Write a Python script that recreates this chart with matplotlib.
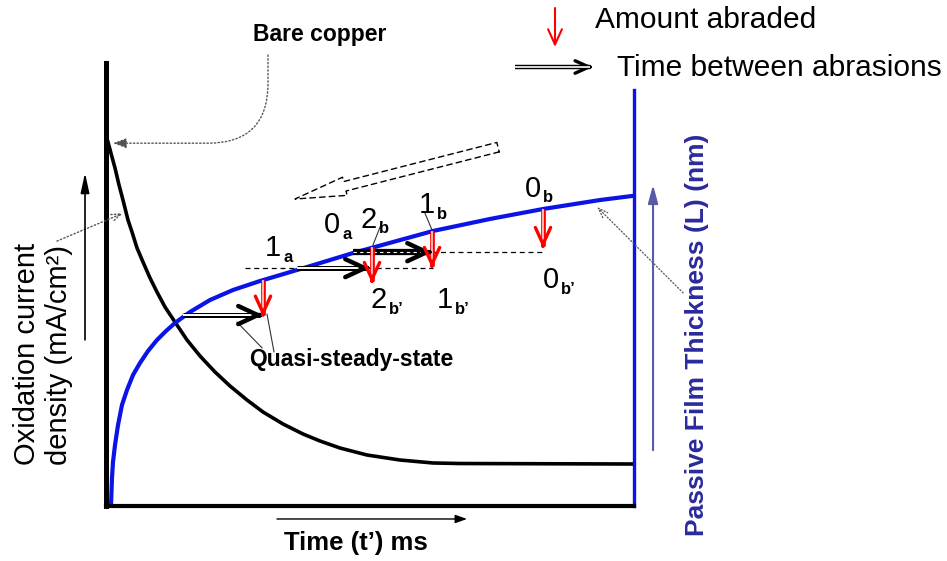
import matplotlib
matplotlib.use('Agg')
import matplotlib.pyplot as plt

plt.rcParams['font.family'] = ['Liberation Sans', 'DejaVu Sans']

# schematic curves (time in % of window, values in % of axis)
current_t = [0.47, 1.23, 1.80, 2.56, 3.31, 4.26, 5.02, 5.97, 7.10, 8.43, 9.75,
             11.27, 13.16, 15.44, 17.90, 20.74, 23.58, 26.80, 29.83, 33.62,
             37.41, 40.63, 44.41, 49.53, 55.78, 62.03, 67.14, 99.91]
current = [82.17, 78.78, 76.30, 72.46, 69.07, 64.56, 61.85, 58.24, 55.08, 51.47, 48.31,
           44.92, 41.53, 37.47, 33.86, 30.25, 27.09, 23.93, 21.22, 18.51,
           16.25, 14.67, 13.09, 11.51, 10.38, 9.71, 9.59, 9.48]

film_t = [1.04, 1.23, 1.42, 1.80, 2.37, 3.12, 4.07, 5.21, 6.53, 8.05, 9.75,
          11.46, 13.16, 16.00, 19.79, 24.15, 29.26, 34.38, 40.06, 46.88,
          54.45, 62.03, 72.82, 82.86, 93.66, 99.72]
film = [0, 6.32, 9.93, 13.77, 18.28, 22.80, 26.19, 29.57, 32.28, 34.99, 37.47,
        39.50, 41.31, 43.79, 46.50, 48.76, 50.79, 52.60, 54.63, 57.11,
        59.59, 62.08, 64.79, 67.04, 69.07, 69.98]

# abrasion events (red arrows)
abrasion_t = [29.83, 50.47, 61.84, 82.86]
abraded_from = [51.0, 58.4, 62.0, 67.0]
abraded_to = [42.7, 50.3, 53.7, 58.2]

# time between abrasions (double arrows)
interval_start = [14.68, 36.27, 46.88]
interval_end = [29.83, 50.09, 61.84]
interval_level = [43.1, 53.7, 57.3]

# dashed reference levels
level_y = [53.7, 57.3]
level_x0 = [26.42, 46.88]
level_x1 = [62.03, 82.86]

# point labels: main digit, subscript, x, baseline y
point_main = ['1', '0', '2', '1', '0', '2', '1', '0']
point_sub = ['a', 'a', 'b', 'b', 'b', 'b\u2019', 'b\u2019', 'b\u2019']
point_x = [30.21, 41.38, 48.39, 59.38, 79.45, 50.28, 62.78, 82.86]
point_y = [56.4, 61.6, 62.8, 66.1, 69.8, 44.7, 44.7, 49.2]

BLUE = '#0a14e6'
NAVY = '#2a2a9c'

fig = plt.figure(figsize=(9.47, 5.61), dpi=100)
ax = fig.add_axes([105.5 / 947, 55 / 561, 528 / 947, 443 / 561])
ax.set_xlim(0, 100)
ax.set_ylim(0, 100)
ax.set_xticks([])
ax.set_yticks([])
ax.spines['top'].set_visible(False)
ax.spines['left'].set_linewidth(3.6)
ax.spines['bottom'].set_linewidth(3.0)
ax.spines['right'].set_color(BLUE)
ax.spines['right'].set_linewidth(2.4)
ax.spines['right'].set_bounds(0, 93.9)

ax.plot(current_t, current, color='black', lw=2.6, solid_joinstyle='round')
ax.plot(film_t, film, color=BLUE, lw=3.0, solid_joinstyle='round')

for y, x0, x1 in zip(level_y, level_x0, level_x1):
    ax.plot([x0, x1], [y, y], color='black', lw=0.9, ls=(0, (4, 3)))


def head(xy, frm, color, hl, hw, lw, coords='data'):
    ax.annotate('', xy=xy, xytext=frm, xycoords=coords, textcoords=coords,
                annotation_clip=False,
                arrowprops=dict(arrowstyle=f'->,head_length={hl},head_width={hw}',
                                mutation_scale=1, color=color, lw=lw,
                                shrinkA=0, shrinkB=0))


# double-line arrows
for i, (x0, x1, y) in enumerate(zip(interval_start, interval_end, interval_level)):
    if i == 2:
        ax.plot([x0, x1 - 1], [y, y], color='black', lw=4.5, solid_capstyle='butt')
        ax.plot([x0, x1 - 1], [y, y], color='white', lw=0.8, ls=(0, (3, 3)))
    else:
        ax.plot([x0, x1 - 0.5], [y, y], color='black', lw=3.6, solid_capstyle='butt')
        ax.plot([x0, x1 - 0.5], [y, y], color='white', lw=1.4, solid_capstyle='butt')
    head((x1, y), (x1 - 0.6, y), 'black', 14, 6.5, 3.2)

# red abrasion arrows
for x, y0, y1 in zip(abrasion_t, abraded_from, abraded_to):
    ax.plot([x, x], [y0, y1 + 0.5], color='red', lw=3.4, solid_capstyle='butt')
    ax.plot([x, x], [y0, y1 + 0.5], color='#ffd6d6', lw=1.2, solid_capstyle='butt')
    head((x, y1), (x, y1 + 0.6), 'red', 12, 5.5, 2.4)

# point labels
for m, s, x, y in zip(point_main, point_sub, point_x, point_y):
    ax.text(x, y, m, fontsize=21, ha='left', va='baseline')
    ax.annotate(s, (x, y), xytext=(13, -4), textcoords='offset points',
                fontsize=12, fontweight='bold', ha='left', va='baseline')

# thin leader lines
leaders = [((52.37, 64.1), (50.66, 58.9)), ((60.51, 66.1), (61.84, 62.3)),
           ((24.91, 41.5), (29.64, 35.7)), ((30.59, 43.3), (31.91, 34.8))]
for (xa, ya), (xb, yb) in leaders:
    ax.plot([xa, xb], [ya, yb], color='#333333', lw=0.8)

ax.text(46.5, 33.0, 'Quasi-steady-state', fontsize=16.5, fontweight='bold',
        ha='center', va='center')

# big dashed hollow arrow (direction of film removal)
ax.annotate('', xy=(35.9, 69.3), xytext=(74.34, 81.0),
            arrowprops=dict(arrowstyle='simple,head_length=37,head_width=13.5,tail_width=7',
                            mutation_scale=1, fc='white', ec='black', lw=1,
                            ls=(0, (4, 3)), shrinkA=0, shrinkB=0))

# dotted pointers
ax.annotate('', xy=(1.42, 81.9), xytext=(30.78, 101.8), annotation_clip=False,
            arrowprops=dict(arrowstyle='-|>,head_length=8,head_width=3', mutation_scale=1,
                            color='#555555', lw=1, ls=':', shrinkA=0, shrinkB=0,
                            connectionstyle='angle,angleA=90,angleB=0,rad=60'))
ax.annotate('', xy=(3.31, 66.1), xytext=(-9.19, 59.8), annotation_clip=False,
            arrowprops=dict(arrowstyle='->,head_length=7,head_width=2.5', mutation_scale=1,
                            color='#555555', lw=1, ls=':', shrinkA=0, shrinkB=0))
ax.annotate('', xy=(93.1, 67.5), xytext=(109.4, 48.1), annotation_clip=False,
            arrowprops=dict(arrowstyle='->,head_length=7,head_width=2.5', mutation_scale=1,
                            color='#555555', lw=0.9, ls=':', shrinkA=0, shrinkB=0))

# axis direction arrows
ax.annotate('', xy=(-3.88, 75.2), xytext=(-3.88, 37.5), annotation_clip=False,
            arrowprops=dict(arrowstyle='-|>,head_length=12,head_width=2.6', mutation_scale=1,
                            color='black', lw=1.2, shrinkA=0, shrinkB=0))
ax.annotate('', xy=(103.7, 72.5), xytext=(103.7, 12.6), annotation_clip=False,
            arrowprops=dict(arrowstyle='-|>,head_length=11,head_width=3', mutation_scale=1,
                            color='#5a5aaa', lw=1.5, shrinkA=0, shrinkB=0))
ax.annotate('', xy=(68.47, -2.93), xytext=(32.48, -2.93), annotation_clip=False,
            arrowprops=dict(arrowstyle='-|>,head_length=7,head_width=2.5', mutation_scale=1,
                            color='black', lw=1.0, shrinkA=0, shrinkB=0))

# axis labels
fig.text(0.0454, 1 - 465 / 561, 'Oxidation current\ndensity (mA/cm\u00b2)', fontsize=21,
         rotation=90, ha='center', va='bottom', multialignment='left', linespacing=1.15)
fig.text(356 / 947, 1 - 543 / 561, 'Time (t\u2019) ms', fontsize=18.5, fontweight='bold',
         ha='center', va='center')
fig.text(697 / 947, 1 - 335 / 561, 'Passive Film Thickness (L) (nm)', fontsize=19,
         fontweight='bold', color=NAVY, rotation=90, ha='center', va='center')
fig.text(320 / 947, 1 - 35 / 561, 'Bare copper', fontsize=16.5, fontweight='bold',
         ha='center', va='center')

# legend
fig.text(595 / 947, 1 - 28 / 561, 'Amount abraded', fontsize=21.5, ha='left', va='baseline')
fig.text(617 / 947, 1 - 76 / 561, 'Time between abrasions', fontsize=21.5, ha='left',
         va='baseline')
ax.annotate('', xy=(555 / 947, 1 - 47 / 561), xytext=(555 / 947, 1 - 8 / 561),
            xycoords='figure fraction', textcoords='figure fraction',
            arrowprops=dict(arrowstyle='->,head_length=11,head_width=5', mutation_scale=1,
                            color='red', lw=1.5, shrinkA=0, shrinkB=0))
lx0, lx1, ly = 515 / 947, 590 / 947, 1 - 67 / 561
fig.add_artist(plt.Line2D([lx0, lx1], [ly, ly], color='black', lw=3.2,
                          solid_capstyle='butt', transform=fig.transFigure))
fig.add_artist(plt.Line2D([lx0, lx1], [ly, ly], color='white', lw=1.2,
                          solid_capstyle='butt', transform=fig.transFigure))
head((593 / 947, ly), (589 / 947, ly), 'black', 10, 4.5, 2.4, coords='figure fraction')

fig.savefig('out.png', dpi=100)
